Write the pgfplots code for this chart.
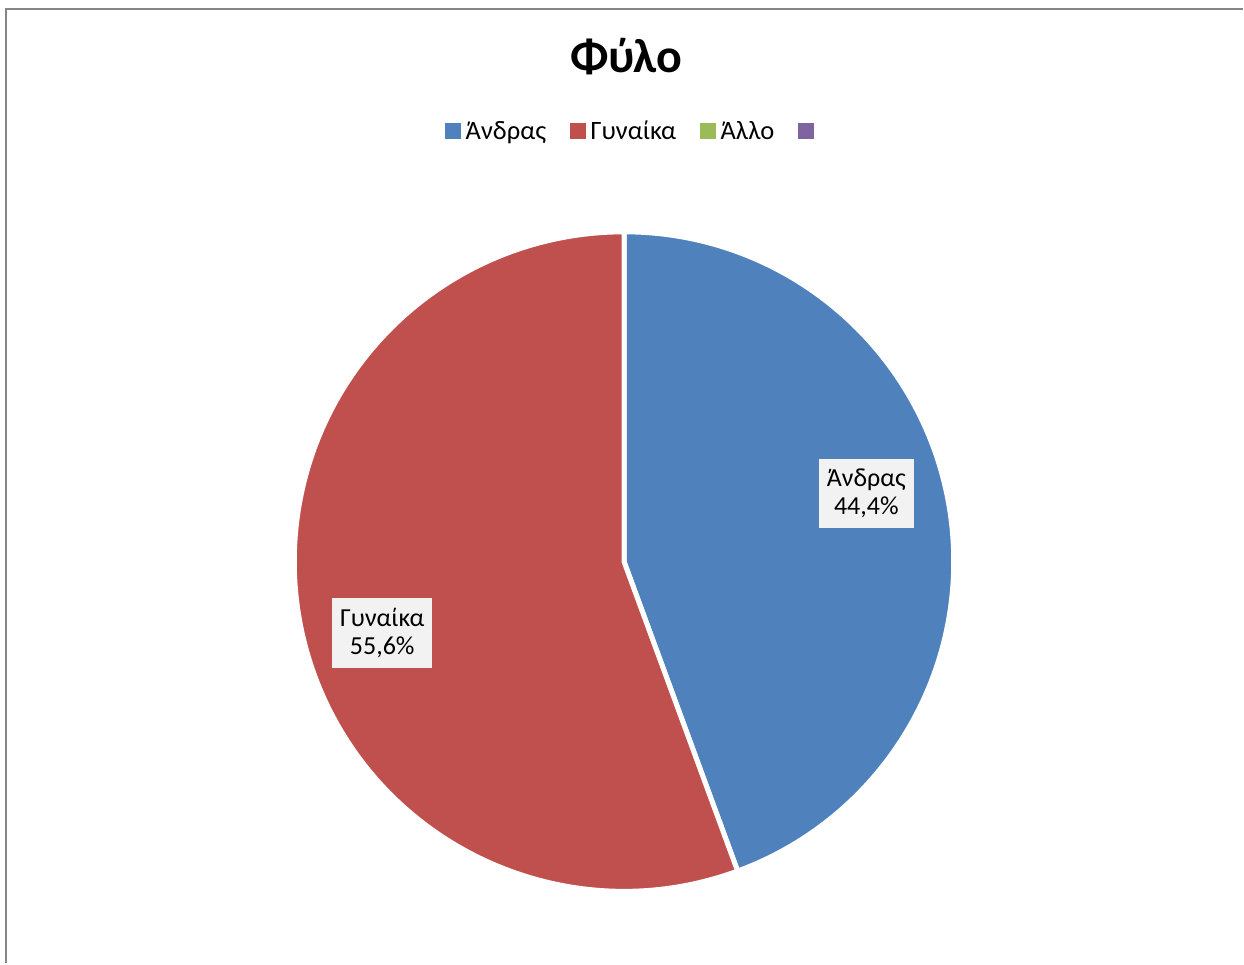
\documentclass[border=0pt]{standalone}
\usepackage{pgfplots}
\pgfplotsset{compat=1.18}
\usepackage{pgfplotstable}
\usepackage{fontspec}
\setmainfont{Carlito}
\definecolor{cblue}{HTML}{4F81BD}
\definecolor{cred}{HTML}{C0504D}
\definecolor{cgreen}{HTML}{9BBB59}
\definecolor{cpurple}{HTML}{8064A2}
\definecolor{cframe}{HTML}{868686}
\definecolor{cbox}{HTML}{F2F2F2}
\pgfplotstableread{
idx value
0 44.4
1 55.6
}\piedata
\begin{document}
\begin{tikzpicture}
\pgfplotstablegetelem{0}{value}\of\piedata \let\va\pgfplotsretval
\pgfplotstablegetelem{1}{value}\of\piedata \let\vb\pgfplotsretval
\pgfmathsetmacro{\ea}{90-3.6*\va}
\pgfmathsetmacro{\eb}{\ea-3.6*\vb}
\begin{axis}[
  width=1244bp, height=964bp, scale only axis,
  xmin=0, xmax=1244, ymin=0, ymax=964,
  hide axis, clip=false,
  title={\bfseries Φύλο},
  title style={at={(axis cs:627,901)}, anchor=center, font=\fontsize{48bp}{56bp}\selectfont},
  legend image code/.code={\fill[#1] (0bp,-7.5bp) rectangle (15bp,7.5bp); \path (19bp,0bp);},
  legend style={draw=none, fill=none, legend columns=-1,
    at={(axis cs:633,833)}, anchor=center,
    font=\fontsize{26.5bp}{30bp}\selectfont,
    /tikz/every even column/.append style={column sep=22bp},
    nodes={inner xsep=1.5bp, inner ysep=2bp}},
]
\path (axis cs:0,0) rectangle (axis cs:1244,964);
\draw[cframe, line width=2bp] (axis cs:6.5,0) -- (axis cs:6.5,954.5) -- (axis cs:1244,954.5);
\fill[cblue, draw=white, line width=5bp] (axis cs:624.5,402) -- ++(90:330bp) arc[start angle=90, end angle=\ea, radius=330bp] -- cycle;
\fill[cred, draw=white, line width=5bp] (axis cs:624.5,402) -- ++(\ea:330bp) arc[start angle=\ea, end angle=\eb, radius=330bp] -- cycle;
\node[fill=cbox, align=center, inner xsep=8bp, inner ysep=10bp, font=\fontsize{26bp}{28bp}\selectfont] at (axis cs:867,470.5) {Άνδρας\\44,4\%};
\node[fill=cbox, align=center, inner xsep=8bp, inner ysep=10bp, font=\fontsize{26bp}{28bp}\selectfont] at (axis cs:382.5,330.5) {Γυναίκα\\55,6\%};
\addlegendimage{cblue}
\addlegendentry{Άνδρας}
\addlegendimage{cred}
\addlegendentry{Γυναίκα}
\addlegendimage{cgreen}
\addlegendentry{Άλλο}
\addlegendimage{cpurple}
\addlegendentry{}
\end{axis}
\end{tikzpicture}
\end{document}
